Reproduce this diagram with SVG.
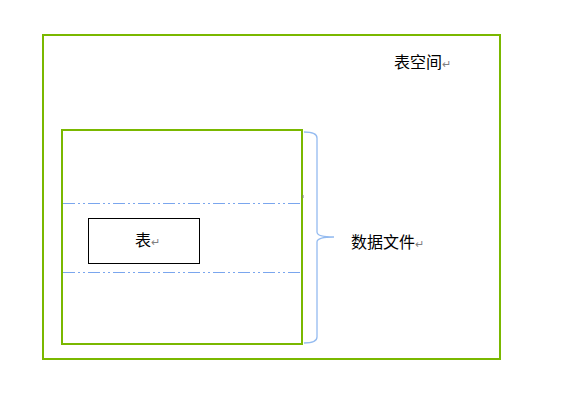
<svg xmlns="http://www.w3.org/2000/svg" width="574" height="405" viewBox="0 0 574 405">
<style>
.frame{fill:none;stroke:#7ab800;stroke-width:2}
.dd{stroke:#7aa6ee;stroke-width:1.2;stroke-dasharray:12 3 2 3 2 3}
.lbl{font-family:"Noto Sans CJK SC","Liberation Sans",sans-serif;font-size:16px;fill:#000}
.ret{font-family:"Liberation Sans",sans-serif;font-size:11px;fill:#808080}
</style>
<rect width="574" height="405" fill="#fff"/>
<g id="tablespace">
<rect class="frame" x="43" y="35" width="457" height="324"/>
<text class="lbl" x="394" y="68">表空间<tspan class="ret">↵</tspan></text>
</g>
<g id="datafile">
<rect class="frame" x="62" y="130" width="240" height="214"/>
<line x1="303" y1="195" x2="303" y2="198" stroke="#808080" stroke-width="1"/>
<text class="lbl" x="351" y="248">数据文件<tspan class="ret">↵</tspan></text>
</g>
<g id="table">
<rect x="88.5" y="218.5" width="111" height="45" fill="#fff" stroke="#000" stroke-width="1"/>
<text class="lbl" x="135" y="246">表<tspan class="ret">↵</tspan></text>
</g>
<g id="connectors">
<line class="dd" x1="63" y1="203.5" x2="300" y2="203.5"/>
<line class="dd" x1="63" y1="272.5" x2="300" y2="272.5"/>
<path d="M304 132 Q317 132 317 138 L317 232 Q317 237 334 237 Q317 237 317 242 L317 337 Q317 343 304 343" fill="none" stroke="#94bbf0" stroke-width="1.3"/>
</g>
</svg>
